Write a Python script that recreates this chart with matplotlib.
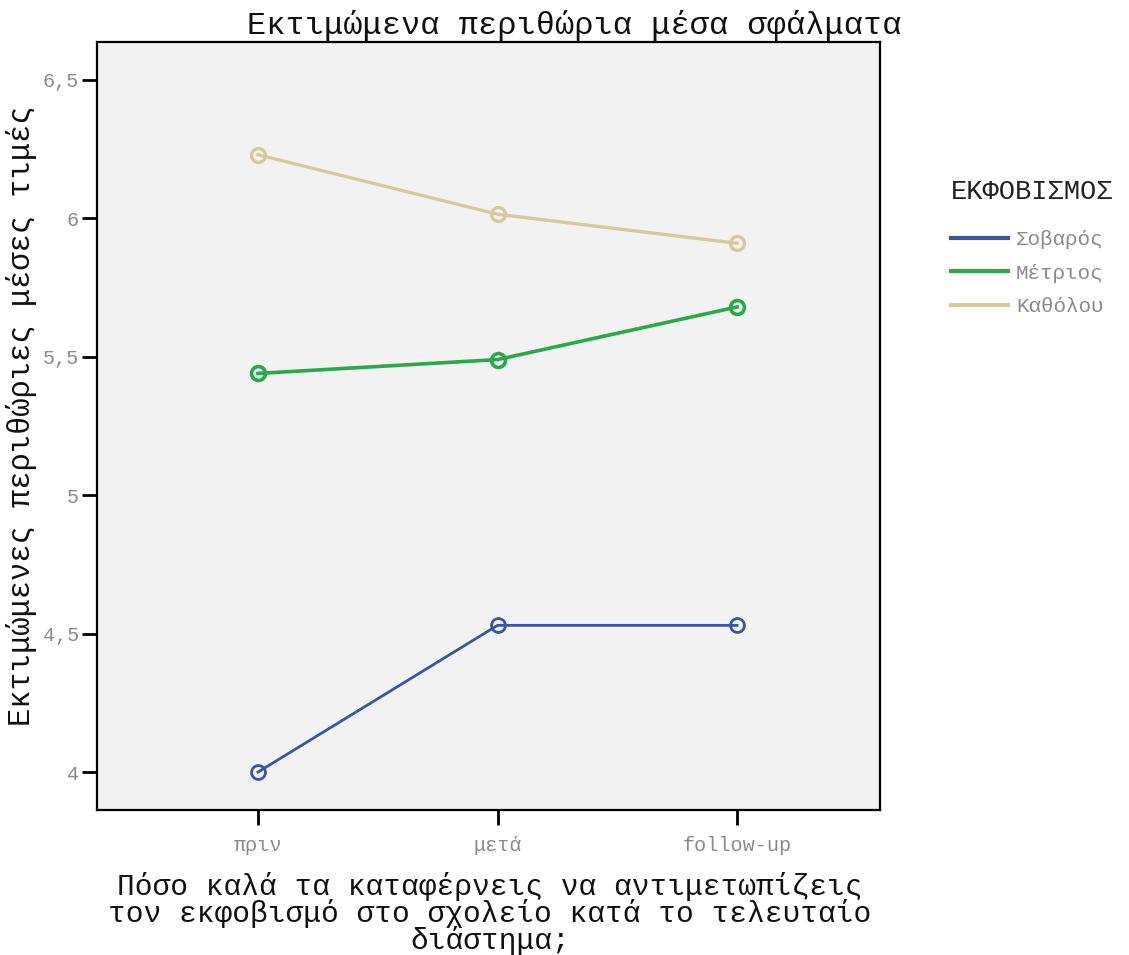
import matplotlib
matplotlib.use("Agg")
import matplotlib.pyplot as plt

plt.rcParams['font.family'] = ['Liberation Mono', 'DejaVu Sans Mono']

timepoints = ["πριν", "μετά", "follow-up"]
sovaros = [4.00, 4.53, 4.53]
metrios = [5.44, 5.49, 5.68]
katholou = [6.23, 6.015, 5.91]
series_names = ["Σοβαρός", "Μέτριος", "Καθόλου"]
series_colors = ["#3b55a5", "#2aa84a", "#d6ca9c"]
series_widths = [2.0, 2.6, 2.4]

fig = plt.figure(figsize=(11.29, 9.55), dpi=100)
ax = fig.add_axes([0.0859, 0.1518, 0.6936, 0.8042])
ax.set_facecolor("#f2f2f2")

x = list(range(len(timepoints)))
for vals, name, col, lw in zip([sovaros, metrios, katholou], series_names, series_colors, series_widths):
    ax.plot(x, vals, color=col, lw=lw, marker="o", markersize=10,
            markerfacecolor="none", markeredgewidth=lw, markeredgecolor=col, label=name)

ax.set_xlim(-0.672, 2.597)
ax.set_ylim(3.863, 6.637)
ax.set_xticks(x)
ax.set_xticklabels(timepoints)
ax.set_yticks([4, 4.5, 5, 5.5, 6, 6.5])
ax.set_yticklabels(["4", "4,5", "5", "5,5", "6", "6,5"])
ax.tick_params(axis="both", direction="out", length=11, width=2, colors="black",
               labelcolor="#8a8a8a", labelsize=14.5)
ax.tick_params(axis="x", pad=8)
ax.tick_params(axis="y", pad=2)
for s in ax.spines.values():
    s.set_linewidth(1.6)
    s.set_color("black")

fig.text(0.509, 0.973, "Εκτιμώμενα περιθώρια μέσα σφάλματα", ha="center", va="center",
         fontsize=23, color="#111111")
fig.text(0.019, 0.565, "Εκτιμώμενες περιθώριες μέσες τιμές", ha="center", va="center",
         rotation=90, fontsize=22, color="#111111")
# three lines, roughly 26-27 px apart like the original
xl = ["Πόσο καλά τα καταφέρνεις να αντιμετωπίζεις",
      "τον εκφοβισμό στο σχολείο κατά το τελευταίο",
      "διάστημα;"]
for i, line in enumerate(xl):
    fig.text(0.434, 1 - (886 + 27 * i) / 955, line, ha="center", va="center",
             fontsize=21.3, color="#111111")

lines = []
for col, name in zip(series_colors, series_names):
    lines.append(plt.Line2D([], [], color=col, lw=3))
leg = fig.legend(lines, series_names, title="ΕΚΦΟΒΙΣΜΟΣ", loc="upper left",
                 bbox_to_anchor=(0.826, 0.832), frameon=False, fontsize=15,
                 title_fontsize=19.5, handlelength=2.7, handletextpad=0.4,
                 labelspacing=0.7, alignment="left")
leg._legend_box.sep = 18
for t in leg.get_texts():
    t.set_color("#8a8a8a")
leg.get_title().set_color("#222222")

fig.savefig("out.png", dpi=100)
